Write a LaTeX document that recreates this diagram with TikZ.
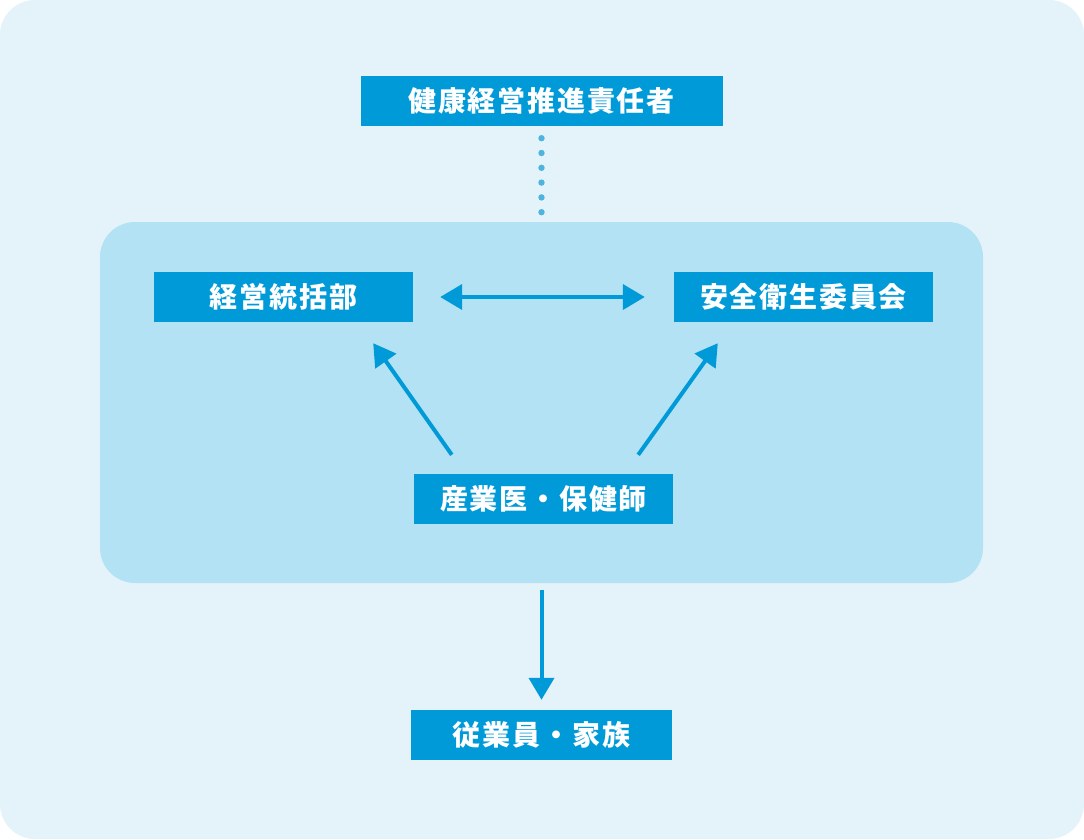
\documentclass[tikz,border=0pt]{standalone}
\usepackage{fontspec}
\newfontfamily\jpfont{Noto Sans CJK JP}[LetterSpace=6.5]
\usetikzlibrary{arrows.meta}
\definecolor{bgpale}{HTML}{E4F3FA}
\definecolor{bgmid}{HTML}{B3E2F4}
\definecolor{boxblue}{HTML}{009AD9}
\definecolor{dotblue}{HTML}{4DB3DF}

\begin{document}
\begin{tikzpicture}[x=1pt,y=-1pt]

    \tikzset{
      role/.style={
        fill = boxblue,
        text = white,
        inner sep = 0pt,
        minimum height = 50pt,
        font = \jpfont\bfseries\fontsize{28}{28}\selectfont,
      },
      flow/.style={
        color = boxblue,
        line width = 4,
        >={Triangle[length=22pt,width=25pt]},
      },
    }

	\fill[color = {bgpale},rounded corners = 35] (0,0) rectangle (1084,839);
	\fill[color = {bgmid},rounded corners = 35] (100,222) rectangle (983,583);

	\node[role,minimum width = 362pt] (lead) at (541.5,101) {健康経営推進責任者};
	\node[role,minimum width = 259pt] (mgmt) at (283.5,297) {経営統括部};
	\node[role,minimum width = 259pt] (safety) at (803.5,297) {安全衛生委員会};
	\node[role,minimum width = 259pt] (med) at (543.5,499) {産業医・保健師};
	\node[role,minimum width = 261pt] (staff) at (541.5,735) {従業員・家族};

	\coordinate (paneltop) at (541.5,222);
	\coordinate (panelfoot) at (541.5,590);

	\draw[color = {dotblue},line width = 6.4,line cap = round,dash pattern = on 0pt off 14.8pt,shorten <= 12pt,shorten >= 9.5pt] (lead.south) -- (paneltop);
	\draw[flow,<->,shorten <= 27pt,shorten >= 29pt] (mgmt) -- (safety);
	\draw[flow,->] ([shift={(38,-19)}]med.north west) -- ([shift={(-40,21)}]mgmt.south east);
	\draw[flow,->] ([shift={(-35,-19)}]med.north east) -- ([shift={(44,21)}]safety.south west);
	\draw[flow,->,shorten >= 10pt] (panelfoot) -- (staff);

\end{tikzpicture}
\end{document}
